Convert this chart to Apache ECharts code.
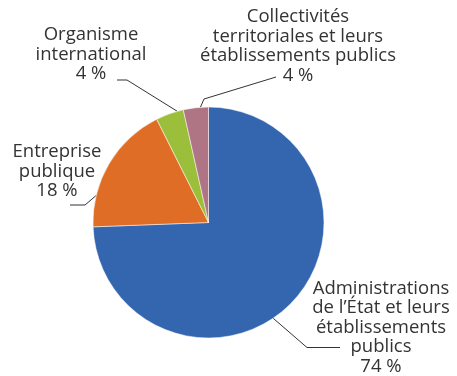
<!DOCTYPE html>
<html><head><meta charset="utf-8">
<script src="https://cdn.jsdelivr.net/npm/echarts@6/dist/echarts.min.js"></script>
<style>html,body{margin:0;padding:0;background:#fff}#c{width:457px;height:376px}</style>
</head><body><div id="c"></div>
<script>
const categories = [
  "Administrations\nde l\u2019\u00c9tat et leurs\n\u00e9tablissements\npublics",
  "Entreprise\npublique",
  "Organisme\ninternational",
  "Collectivit\u00e9s\nterritoriales et leurs\n\u00e9tablissements publics"
];
const values = [74.4, 18.2, 3.9, 3.5];
const colors = ["#3466B0", "#E06D26", "#9CBF3B", "#B07585"];

// styling: label anchor (center x, top y), leader anchor fraction in slice, elbow & end offsets from anchor
const labelPos = [[381, 278.5], [57, 142], [91, 25], [298, 7]];
const leaderFrac = [0.545, 0.24, 0.78, 0.68];
const leaderElbow = [[-74, 69], [28, 63], [36, 55], [-94, 92]];
const leaderEnd = [[-41, 69], [13, 63], [26, 55], [-22, 70]];
const CX = 208.5, CY = 222.5, R = 115.5;

const total = values.reduce((a, b) => a + b, 0);
const starts = [];
values.reduce((acc, v, i) => { starts[i] = acc; return acc + v; }, 0);

const chart = echarts.init(document.getElementById('c'));
chart.setOption({
  animation: false,
  series: [{
    type: 'pie',
    center: [CX, CY],
    radius: [0, R],
    startAngle: 90,
    clockwise: true,
    itemStyle: { borderColor: '#ffffff', borderWidth: 0.5 },
    data: categories.map((n, i) => ({ name: n, value: values[i], itemStyle: { color: colors[i] } })),
    label: {
      show: true,
      position: 'outside',
      overflow: 'none',
      formatter: p => p.name + '\n' + Math.round(p.value) + ' %',
      fontFamily: 'Open Sans',
      fontSize: 18.5,
      lineHeight: 19.5,
      color: '#333',
      align: 'center'
    },
    labelLine: { show: true, lineStyle: { color: '#333', width: 1 } },
    labelLayout: function (p) {
      const i = p.dataIndex;
      const pos = labelPos[i];
      const ang = (starts[i] + leaderFrac[i] * values[i]) / total * 2 * Math.PI;
      const a = [CX + R * Math.sin(ang), CY - R * Math.cos(ang)];
      const b = [pos[0] + leaderElbow[i][0], pos[1] + leaderElbow[i][1]];
      const c = [pos[0] + leaderEnd[i][0], pos[1] + leaderEnd[i][1]];
      return { x: pos[0], y: pos[1], align: 'center', verticalAlign: 'top', labelLinePoints: [a, b, c] };
    }
  }]
});
</script>
</body></html>
